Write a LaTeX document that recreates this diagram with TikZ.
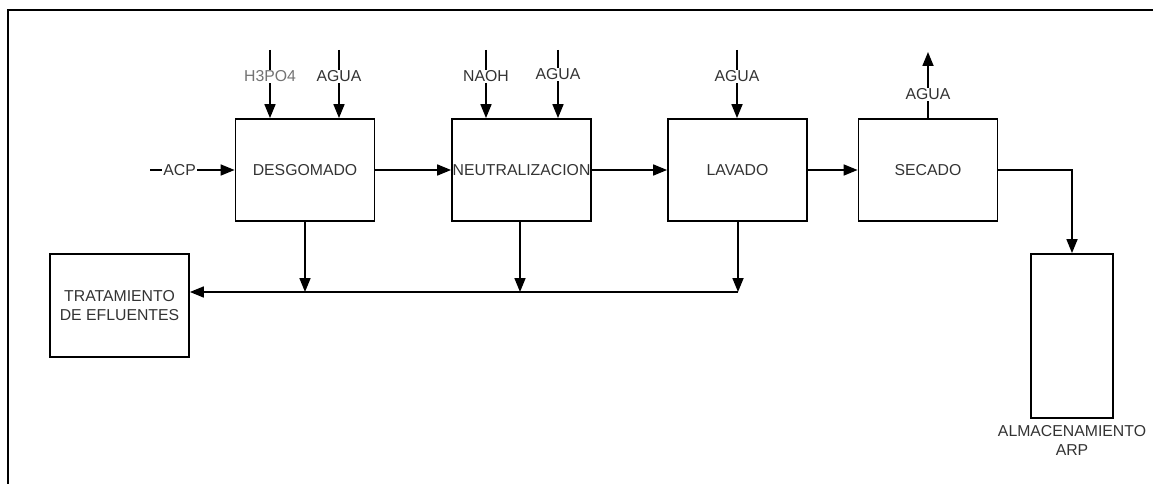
\documentclass[tikz,border=0pt]{standalone}
\usepackage{fontspec}
\setmainfont{Liberation Sans}
\usetikzlibrary{arrows.meta}
\begin{document}
\begin{tikzpicture}[x=1pt,y=-1pt,
  every node/.style={font=\fontsize{15.8}{19.5}\selectfont, text=black!80},
  procbox/.style={draw=black, line width=1.8pt, minimum width=139pt, minimum height=102pt, inner sep=0pt, align=center},
  flow/.style={line width=1.7pt, -{Triangle[length=14pt,width=11pt]}},
  tag/.style={fill=white, inner sep=1pt}
]
\useasboundingbox (0,0) rectangle (1153,484);
% outer frame
\draw[line width=1.8pt] (8,484) -- (8,10) -- (1153,10);

% process units
\node[procbox] (des) at (305,170) {DESGOMADO};
\node[procbox] (neu) at (521.5,170) {NEUTRALIZACION};
\node[procbox] (lav) at (737.5,170) {LAVADO};
\node[procbox] (sec) at (928,170) {SECADO};
\node[procbox, minimum height=103pt] (tra) at (119.5,305.5) {TRATAMIENTO\\DE EFLUENTES};
\node[procbox, minimum width=82pt, minimum height=164pt] (alm) at (1072,336) {};
\node[anchor=north, align=center, inner sep=0pt] (almlbl) at (1072,425) {ALMACENAMIENTO\\ARP};

% feed streams
\coordinate (acp) at (150,170);
\draw[flow] (acp) -- node[tag, pos=0.35] {ACP} (des.west);

\coordinate (h3) at (270,50);
\draw[flow] (h3) -- node[tag, pos=0.39, text=black!55] {H3PO4} (h3 |- des.north);
\coordinate (w1) at (339,50);
\draw[flow] (w1) -- node[tag, pos=0.39] {AGUA} (w1 |- des.north);

\coordinate (na) at (486,50);
\draw[flow] (na) -- node[tag, pos=0.39] {NAOH} (na |- neu.north);
\coordinate (w2) at (558,50);
\draw[flow] (w2) -- node[tag, pos=0.36] {AGUA} (w2 |- neu.north);

\coordinate (w3) at (737,50);
\draw[flow] (w3) -- node[tag, pos=0.39] {AGUA} (w3 |- lav.north);

\coordinate (w4) at (928,52);
\draw[flow] (sec.north) -- node[tag, pos=0.36] {AGUA} (w4);

% main line
\draw[flow] (des.east) -- (neu.west);
\draw[flow] (neu.east) -- (lav.west);
\draw[flow] (lav.east) -- (sec.west);
\draw[flow] (sec.east) -| (alm.north);

% effluent collection
\coordinate (j1) at (305,292);
\coordinate (j2) at (520,292);
\coordinate (j3) at (738,292);
\draw[flow] (des.south) -- (j1);
\draw[flow] (j2 |- neu.south) -- (j2);
\draw[flow] (j3 |- lav.south) -- (j3);
\draw[flow] (j3) -- (j3 -| tra.east);
\end{tikzpicture}
\end{document}
